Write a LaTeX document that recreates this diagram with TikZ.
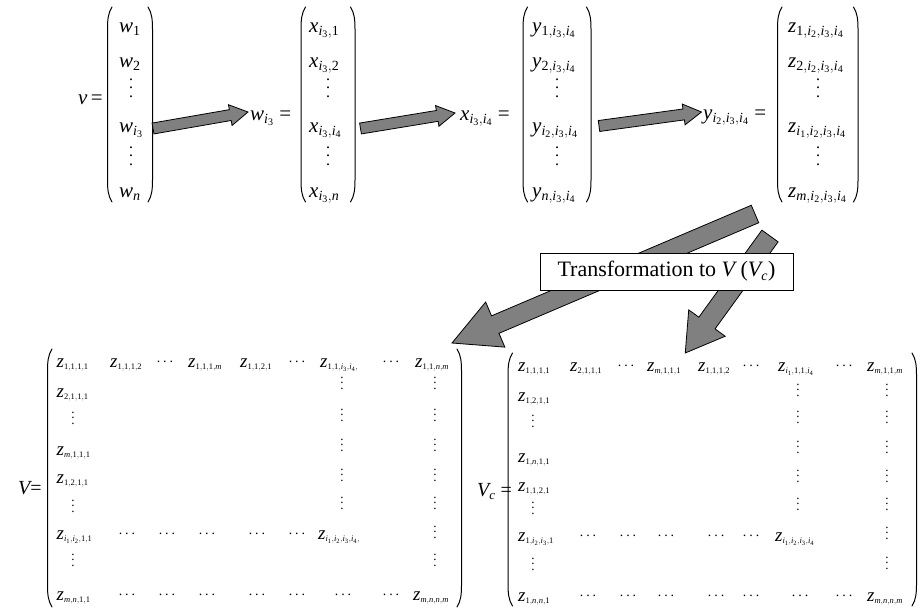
\documentclass[tikz,border=0pt]{standalone}
\usepackage{mathspec}
\setmainfont{Liberation Serif}
\setmathsfont(Digits,Latin){Liberation Serif}
\usetikzlibrary{calc}
\DeclareMathSizes{21}{21}{14}{10}
\DeclareMathSizes{20}{20}{13}{9}
\DeclareMathSizes{19}{19}{8.5}{6.5}
\DeclareMathSizes{22}{22}{14}{10}
\definecolor{arrowgray}{RGB}{128,128,128}

% three stacked dots with a given pitch
\newcommand\vdd[1]{\vbox{\baselineskip=#1\lineskiplimit=-20pt\lineskip=0pt\hbox{.}\hbox{.}\hbox{.}}}
% three dots on the math axis
\newcommand\hdd{\raisebox{4.5pt}{.\hspace{3pt}.\hspace{3pt}.}}

% round brackets along the west and east sides of a node
\newcommand\delims[1]{%
  \draw[delim] ($(#1.north west)+(4.5,0)$) .. controls ($(#1.north west)+(0.6,6)$) and ($(#1.north west)+(0,13)$) .. ($(#1.north west)+(0,22)$)
     -- ($(#1.south west)+(0,-22)$) .. controls ($(#1.south west)+(0,-13)$) and ($(#1.south west)+(0.6,-6)$) .. ($(#1.south west)+(4.5,0)$);
  \draw[delim] ($(#1.north east)+(-4.5,0)$) .. controls ($(#1.north east)+(-0.6,6)$) and ($(#1.north east)+(0,13)$) .. ($(#1.north east)+(0,22)$)
     -- ($(#1.south east)+(0,-22)$) .. controls ($(#1.south east)+(0,-13)$) and ($(#1.south east)+(-0.6,-6)$) .. ($(#1.south east)+(-4.5,0)$);}

% block arrow: tail, tip, half shaft width, half head width, head length
\newcommand\blockarrow[5]{%
  \coordinate (bac) at ($(#2)!#5!(#1)$);
  \draw[fatarrow] ($(#1)!#3!90:(#2)$) -- ($(bac)!#3!-90:(#1)$) -- ($(bac)!#4!-90:(#1)$) -- (#2)
     -- ($(bac)!#4!90:(#1)$) -- ($(bac)!#3!90:(#1)$) -- ($(#1)!#3!-90:(#2)$) -- cycle;}

\tikzset{
  vecbox/.style={inner sep=0pt, outer sep=0pt},
  delim/.style={line width=1pt, line cap=round},
  topent/.style={inner sep=0pt, anchor=base west, font=\fontsize{21}{25}\selectfont},
  botent/.style={inner sep=0pt, anchor=base west, font=\fontsize{19}{22}\selectfont},
  vdtop/.style={inner sep=0pt, anchor=center, font=\fontsize{16}{16}\selectfont},
  vdbot/.style={inner sep=0pt, anchor=center, font=\fontsize{13}{13}\selectfont},
  hdbot/.style={inner sep=0pt, anchor=base, font=\fontsize{14}{14}\selectfont},
  fatarrow/.style={draw=black, fill=arrowgray, line width=0.8pt, line join=miter},
  tbox/.style={draw, fill=white, line width=0.8pt, inner sep=0pt,
    minimum width=253pt, minimum height=37pt, font=\fontsize{22}{26}\selectfont}
}

\begin{document}
\begin{tikzpicture}[x=1pt,y=-1pt]
\path[use as bounding box] (0,0) rectangle (921,608);

% ---------- top row: nested vectors ----------
\node[vecbox, minimum width=45pt, minimum height=195pt] (vw) at (130,104.5) {};
\node[vecbox, minimum width=54pt, minimum height=195pt] (vx) at (328,104.5) {};
\node[vecbox, minimum width=68pt, minimum height=195pt] (vy) at (557,104.5) {};
\node[vecbox, minimum width=80.5pt, minimum height=195pt] (vz) at (817.75,104.5) {};
\delims{vw}\delims{vx}\delims{vy}\delims{vz}

\node[topent, anchor=base east] (lv) at (103,104) {$v$\,=};
\node[topent] (lw) at (250,120) {$w_{i_3}$ =};
\node[topent] (lx) at (460,120) {$x_{i_3,i_4}$ =};
\node[topent] (ly) at (703,119) {$y_{i_2,i_3,i_4}$ =};

% entries of v
\node[topent] (w1) at (119,32) {$w_1$};
\node[topent] (w2) at (119,67) {$w_2$};
\node[vdtop] (wd1) at (131,88) {\vdd{8.5pt}};
\node[topent] (wi) at (119,132) {$w_{i_3}$};
\node[vdtop] (wd2) at (131,156) {\vdd{8.5pt}};
\node[topent] (wn) at (119,197) {$w_n$};
% entries of w_{i_3}
\node[topent] (x1) at (309,32) {$x_{i_3,1}$};
\node[topent] (x2) at (309,67) {$x_{i_3,2}$};
\node[vdtop] (xd1) at (328,88) {\vdd{8.5pt}};
\node[topent] (xi) at (309,132) {$x_{i_3,i_4}$};
\node[vdtop] (xd2) at (328,156) {\vdd{8.5pt}};
\node[topent] (xn) at (309,197) {$x_{i_3,n}$};
% entries of x_{i_3,i_4}
\node[topent] (y1) at (532,32) {$y_{1,i_3,i_4}$};
\node[topent] (y2) at (532,67) {$y_{2,i_3,i_4}$};
\node[vdtop] (yd1) at (557,88) {\vdd{8.5pt}};
\node[topent] (yi) at (532,132) {$y_{i_2,i_3,i_4}$};
\node[vdtop] (yd2) at (557,156) {\vdd{8.5pt}};
\node[topent] (yn) at (532,197) {$y_{n,i_3,i_4}$};
% entries of y_{i_2,i_3,i_4}
\node[topent] (z1) at (788,32) {$z_{1,i_2,i_3,i_4}$};
\node[topent] (z2) at (788,67) {$z_{2,i_2,i_3,i_4}$};
\node[vdtop] (zd1) at (818,88) {\vdd{8.5pt}};
\node[topent] (zi) at (788,132) {$z_{i_1,i_2,i_3,i_4}$};
\node[vdtop] (zd2) at (818,156) {\vdd{8.5pt}};
\node[topent] (zn) at (788,197) {$z_{m,i_2,i_3,i_4}$};

% arrows between the vectors
\coordinate (t1) at ($(vw.east)+(0.5,24)$);
\coordinate (h1) at ($(lw.base west)+(-2,-8)$);
\coordinate (t2) at ($(vx.east)+(5.5,24)$);
\coordinate (h2) at ($(lx.base west)+(-5,-7)$);
\coordinate (t3) at ($(vy.east)+(8,21.5)$);
\coordinate (h3) at ($(ly.base west)+(-1.5,-7)$);
\blockarrow{t1}{h1}{5.5pt}{10.5pt}{18pt}
\blockarrow{t2}{h2}{5.5pt}{10.5pt}{18pt}
\blockarrow{t3}{h3}{5.5pt}{10.5pt}{18pt}

% ---------- bottom row: the two matrices ----------
\node[vecbox, minimum width=414pt, minimum height=258pt] (mV) at (254.5,478) {};
\node[vecbox, minimum width=408.5pt, minimum height=253pt] (mVc) at (712.25,479.5) {};
\delims{mV}\delims{mVc}

% transformation arrows
\coordinate (ta) at ($(vz.south)+(-62.75,12)$);
\coordinate (ha) at ($(mV.north east)+(-9.5,-6)$);
\coordinate (tb) at ($(vz.south)+(-47.75,34)$);
\coordinate (hb) at ($(mVc.north)+(-27,0)$);
\blockarrow{ta}{ha}{9.5pt}{24.5pt}{47pt}
\blockarrow{tb}{hb}{10pt}{22.5pt}{37pt}
\node[tbox] (tr) at (666.5,271.5) {Transformation to $V$ ($V_c$)};

% matrix V
\node[inner sep=0pt, anchor=base west, font=\fontsize{20}{24}\selectfont] (lV) at (18,494) {$V$=};
\node[botent] (a11) at (56.5,367) {$z_{1,1,1,1}$};
\node[botent] (a12) at (110,367) {$z_{1,1,1,2}$};
\node[hdbot] (a1d1) at (165,367) {\hdd};
\node[botent] (a13) at (188,367) {$z_{1,1,1,m}$};
\node[botent] (a14) at (240,367) {$z_{1,1,2,1}$};
\node[hdbot] (a1d2) at (297,367) {\hdd};
\node[botent] (a15) at (320,367) {$z_{1,1,i_3,i_4,}$};
\node[hdbot] (a1d3) at (391,367) {\hdd};
\node[botent] (a16) at (415,367) {$z_{1,1,n,m}$};
\node[botent] (a21) at (56.5,397) {$z_{2,1,1,1}$};
\node[vdbot] (a3) at (73,418) {\vdd{5.5pt}};
\node[botent] (a41) at (56.5,455) {$z_{m,1,1,1}$};
\node[botent] (a51) at (56.5,483) {$z_{1,2,1,1}$};
\node[vdbot] (a6) at (73,506) {\vdd{5.5pt}};
\node[botent] (a71) at (56.5,539) {$z_{i_1,i_2,1,1}$};
\node[vdbot] (a8) at (73,560) {\vdd{5.5pt}};
\node[botent] (a91) at (56.5,600) {$z_{m,n,1,1}$};
\foreach \x [count=\k] in {127,167,207,257,297}
  \node[hdbot] (a7d\k) at (\x,539) {\hdd};
\node[botent] (a75) at (318,539) {$z_{i_1,i_2,i_3,i_4,}$};
\foreach \x [count=\k] in {127,167,207,257,297,343,391}
  \node[hdbot] (a9d\k) at (\x,600) {\hdd};
\node[botent] (a96) at (413,600) {$z_{m,n,n,m}$};
\foreach \y [count=\k] in {383,415,445,475,503}
  \node[vdbot] (a5v\k) at (342,\y) {\vdd{5.5pt}};
\foreach \y [count=\k] in {383,415,445,475,503,532,560}
  \node[vdbot] (a6v\k) at (435,\y) {\vdd{5.5pt}};

% matrix V_c
\node[inner sep=0pt, anchor=base west, font=\fontsize{20}{24}\selectfont] (lVc) at (477,496) {$V_c$ =};
\node[botent] (b11) at (518,371) {$z_{1,1,1,1}$};
\node[botent] (b12) at (570,371) {$z_{2,1,1,1}$};
\node[hdbot] (b1d1) at (626,371) {\hdd};
\node[botent] (b13) at (647,371) {$z_{m,1,1,1}$};
\node[botent] (b14) at (698,371) {$z_{1,1,1,2}$};
\node[hdbot] (b1d2) at (751,371) {\hdd};
\node[botent] (b15) at (778,371) {$z_{i_1,1,1,i_4}$};
\node[hdbot] (b1d3) at (844,371) {\hdd};
\node[botent] (b16) at (867,371) {$z_{m,1,1,m}$};
\node[botent] (b21) at (518,401) {$z_{1,2,1,1}$};
\node[vdbot] (b3) at (533,421) {\vdd{5.5pt}};
\node[botent] (b41) at (518,462) {$z_{1,n,1,1}$};
\node[botent] (b51) at (518,491) {$z_{1,1,2,1}$};
\node[vdbot] (b6) at (533,508) {\vdd{5.5pt}};
\node[botent] (b71) at (518,541) {$z_{1,i_2,i_3,1}$};
\node[vdbot] (b8) at (533,564) {\vdd{5.5pt}};
\node[botent] (b91) at (518,601) {$z_{1,n,n,1}$};
\foreach \x [count=\k] in {588,628,666,716,751}
  \node[hdbot] (b7d\k) at (\x,541) {\hdd};
\node[botent] (b75) at (775,541) {$z_{i_1,i_2,i_3,i_4}$};
\foreach \x [count=\k] in {588,628,666,716,751,800,844}
  \node[hdbot] (b9d\k) at (\x,601) {\hdd};
\node[botent] (b96) at (867,601) {$z_{m,n,n,m}$};
\foreach \y [count=\k] in {390,417,447,476,504}
  \node[vdbot] (b5v\k) at (798,\y) {\vdd{5.5pt}};
\foreach \y [count=\k] in {390,417,447,476,504,533,563}
  \node[vdbot] (b6v\k) at (887,\y) {\vdd{5.5pt}};
\end{tikzpicture}
\end{document}
